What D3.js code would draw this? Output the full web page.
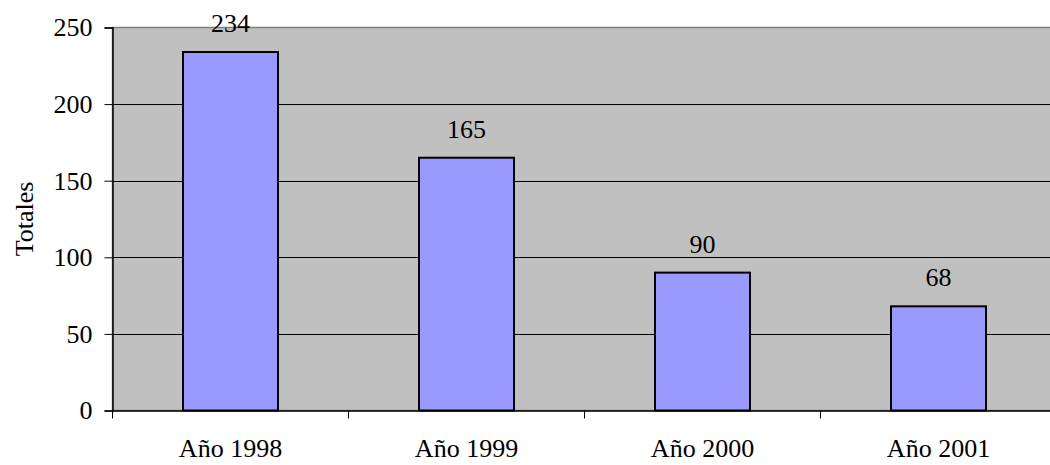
<!DOCTYPE html>
<html>
<head>
<meta charset="utf-8">
<script src="https://cdn.jsdelivr.net/npm/d3@7"></script>
<style>
  html, body { margin: 0; padding: 0; background: #fff; overflow: hidden; }
  svg { display: block; }
  svg text { font-family: "Liberation Serif", "Times New Roman", Times, "DejaVu Serif", serif !important; fill: #000; }
</style>
</head>
<body>
<svg id="chart" width="1050" height="465" font-family="Liberation Serif"></svg>
<script>
const categories = ["Año 1998", "Año 1999", "Año 2000", "Año 2001"];
const values = [234, 165, 90, 68];
const yTicks = [0, 50, 100, 150, 200, 250];
const yTitle = "Totales";

(function () {
const svg = d3.select("#chart");
const FONT = "Liberation Serif";
const plotLeft = 112.5, plotTop = 27.5, plotBottom = 410.5, step = 236;
const plotRight = plotLeft + step * categories.length;
const fs = 26;

const x = d3.scaleBand().domain(categories).range([plotLeft, plotRight])
  .paddingInner(0.5975).paddingOuter(0.5975 / 2);
const y = d3.scaleLinear().domain([0, 250]).range([plotBottom, plotTop]);

// plot background
svg.append("rect").attr("x", plotLeft).attr("y", plotTop)
  .attr("width", plotRight - plotLeft).attr("height", plotBottom - plotTop)
  .attr("fill", "#c0c0c0").attr("stroke", "#808080").attr("stroke-width", 1.5);

// gridlines
svg.append("g").selectAll("line").data(yTicks.filter(d => d > 0 && d < 250)).join("line")
  .attr("x1", plotLeft).attr("x2", plotRight)
  .attr("y1", d => Math.round(y(d)) + 0.5).attr("y2", d => Math.round(y(d)) + 0.5)
  .attr("stroke", "#000").attr("stroke-width", 1);

// bars
svg.append("g").selectAll("rect").data(values).join("rect")
  .attr("x", (d, i) => x(categories[i]))
  .attr("y", d => y(d))
  .attr("width", x.bandwidth())
  .attr("height", d => y(0) - y(d))
  .attr("fill", "#9999ff").attr("stroke", "#000").attr("stroke-width", 2);

// value labels
svg.append("g").attr("font-family", FONT).selectAll("text").data(values).join("text")
  .attr("x", (d, i) => x(categories[i]) + x.bandwidth() / 2)
  .attr("y", d => y(d) - 20)
  .attr("text-anchor", "middle")
  .attr("font-family", FONT)
  .attr("font-size", fs)
  .text(d => d);

// y axis
const yAxis = d3.axisLeft(y).tickValues(yTicks).tickSize(8).tickPadding(12);
const gy = svg.append("g").attr("transform", `translate(${plotLeft},0)`).call(yAxis);
gy.attr("font-size", fs).attr("font-family", FONT);
gy.select(".domain").attr("stroke", "#000").attr("stroke-width", 1.5);
gy.selectAll(".tick line").attr("stroke", "#000");
gy.selectAll(".tick text").attr("font-size", fs).attr("font-family", FONT).attr("fill", "#000");

// x axis
const xAxis = d3.axisBottom(x).tickSize(0).tickPadding(28);
const gx = svg.append("g").attr("transform", `translate(0,${plotBottom})`).call(xAxis);
gx.attr("font-size", fs).attr("font-family", FONT);
gx.select(".domain").attr("stroke", "#000").attr("stroke-width", 1.5);
gx.selectAll(".tick text").attr("font-size", fs).attr("font-family", FONT).attr("fill", "#000");
// category boundary ticks
svg.append("g").selectAll("line").data(d3.range(categories.length + 1)).join("line")
  .attr("x1", i => plotLeft + i * x.step()).attr("x2", i => plotLeft + i * x.step())
  .attr("y1", plotBottom).attr("y2", plotBottom + 8)
  .attr("stroke", "#000").attr("stroke-width", 1);

// y title
svg.append("text")
  .attr("transform", `translate(33,${(plotTop + plotBottom) / 2}) rotate(-90)`)
  .attr("text-anchor", "middle")
  .attr("font-family", FONT)
  .attr("font-size", fs)
  .text(yTitle);
})();
</script>
</body>
</html>
